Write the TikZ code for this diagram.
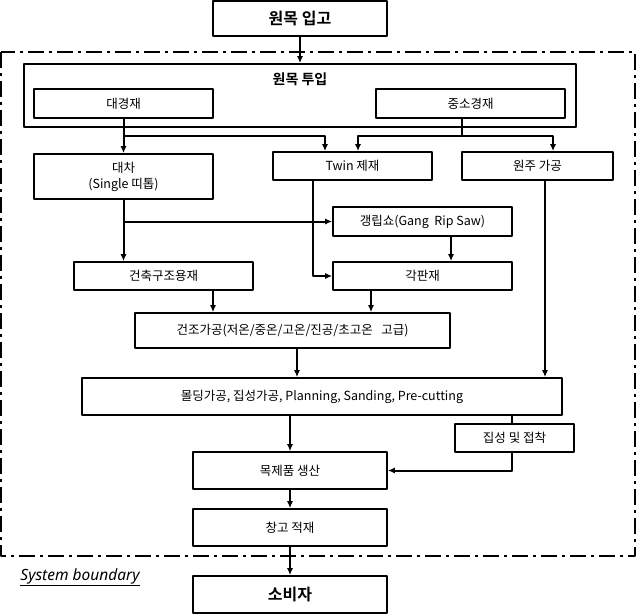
\documentclass[tikz,border=0pt]{standalone}
\usepackage{fontspec}
\usetikzlibrary{arrows.meta}
\setmainfont{Noto Sans CJK KR}[BoldFont={Noto Sans CJK KR Bold}]
\newfontfamily\boundaryfont{Noto Sans}
\begin{document}
\begin{tikzpicture}[>={Latex[length=7pt,width=6pt]},line join=bevel,x=1pt,y=-1pt,
  box/.style={draw,line width=1.7pt,inner sep=0pt,align=center,font=\fontsize{12.5}{16}\selectfont},
  headbox/.style={box,font=\fontsize{16}{18}\selectfont\bfseries},
  flow/.style={black,line width=2pt,->}]
\useasboundingbox (0,0) rectangle (637,615);
%%
  \draw [line width=1.8pt,dash pattern=on 16pt off 5pt on 3pt off 5pt] (1,52) rectangle (635,556);
  \node [headbox,minimum width=174pt,minimum height=35pt] (node_ipgo) at (300,18.5) {원목 입고};
  \node [box,minimum width=552pt,minimum height=63pt] (node_tuip) at (300,95.5) {};
  \node [font=\fontsize{14}{16}\selectfont\bfseries] (node_tuip_title) at (300,79) {원목 투입};
  \node [box,minimum width=179pt,minimum height=29pt] (node_daegyeong) at (123.5,103.5) {대경재};
  \node [box,minimum width=189pt,minimum height=29pt] (node_jungso) at (470.5,103.5) {중소경재};
  \node [box,minimum width=179pt,minimum height=45pt] (node_daecha) at (123.5,176.5) {대차\\(Single 띠톱)};
  \node [box,minimum width=159pt,minimum height=28pt] (node_twin) at (352.5,166) {Twin 제재};
  \node [box,minimum width=151pt,minimum height=28pt] (node_wonju) at (537.5,166) {원주 가공};
  \node [box,minimum width=179pt,minimum height=29pt] (node_gang) at (422.5,221.5) {갱립쇼(Gang~ Rip Saw)};
  \node [box,minimum width=179pt,minimum height=28pt] (node_geonchuk) at (163.5,276) {건축구조용재};
  \node [box,minimum width=179pt,minimum height=28pt] (node_gakpan) at (422.5,276) {각판재};
  \node [box,minimum width=315pt,minimum height=35pt] (node_geonjo) at (292.5,330.5) {건조가공(저온/중온/고온/진공/초고온~~ 고급)};
  \node [box,minimum width=480pt,minimum height=37pt] (node_molding) at (322,396.5) {몰딩가공, 집성가공, Planning, Sanding, Pre-cutting};
  \node [box,minimum width=119pt,minimum height=28pt] (node_jipseong) at (514.5,438) {집성 및 접착};
  \node [box,minimum width=194pt,minimum height=37pt] (node_mokjepum) at (290,470.5) {목제품 생산};
  \node [box,minimum width=194pt,minimum height=37pt] (node_changgo) at (290,527.5) {창고 적재};
  \node [headbox,minimum width=194pt,minimum height=37pt] (node_sobija) at (290,594.5) {소비자};
  \node [font=\boundaryfont\itshape\fontsize{15.5}{18}\selectfont] (node_boundary) at (80,577) {\underline{System boundary}};
  \coordinate (split_dae) at (123.5,136);
  \coordinate (split_jung) at (462,136);
  \draw  [flow] (node_ipgo) edge (node_tuip);
  \draw  [flow] (node_daegyeong.south) -- (node_daecha.north);
  \draw  [flow] (split_dae) -| ([xshift=-27.5pt]node_twin.north);
  \draw  [black,line width=2pt] ([xshift=-8.5pt]node_jungso.south) -- (split_jung);
  \draw  [flow] (split_jung) -| ([xshift=5.5pt]node_twin.north);
  \draw  [flow] (split_jung) -| ([xshift=15.5pt]node_wonju.north);
  \draw  [flow] (node_daecha.south) -- (node_daecha.south |- node_geonchuk.north);
  \draw  [flow] (node_daecha.south |- node_gang.west) -- (node_gang.west);
  \draw  [flow] ([xshift=-39.5pt]node_twin.south) |- (node_gakpan.west);
  \draw  [flow] ([xshift=28.5pt]node_gang.south) -- ([xshift=28.5pt]node_gakpan.north);
  \draw  [flow] ([xshift=49.5pt]node_geonchuk.south) -- ([xshift=49.5pt]node_geonchuk.south |- node_geonjo.north);
  \draw  [flow] ([xshift=-51.5pt]node_gakpan.south) -- ([xshift=-51.5pt]node_gakpan.south |- node_geonjo.north);
  \draw  [flow] ([xshift=4.5pt]node_geonjo.south) -- ([xshift=4.5pt]node_geonjo.south |- node_molding.north);
  \draw  [flow] ([xshift=7.5pt]node_wonju.south) -- ([xshift=7.5pt]node_wonju.south |- node_molding.north);
  \draw  [flow] (node_molding.south -| node_mokjepum) -- (node_mokjepum.north);
  \draw  [black,line width=2pt] ([xshift=-2.5pt]node_molding.south -| node_jipseong) -- ([xshift=-2.5pt]node_jipseong.north);
  \draw  [flow] ([xshift=-2.5pt]node_jipseong.south) |- (node_mokjepum.east);
  \draw  [flow] (node_mokjepum) edge (node_changgo);
  \draw  [flow] (node_changgo) edge (node_sobija);
\end{tikzpicture}
\end{document}
